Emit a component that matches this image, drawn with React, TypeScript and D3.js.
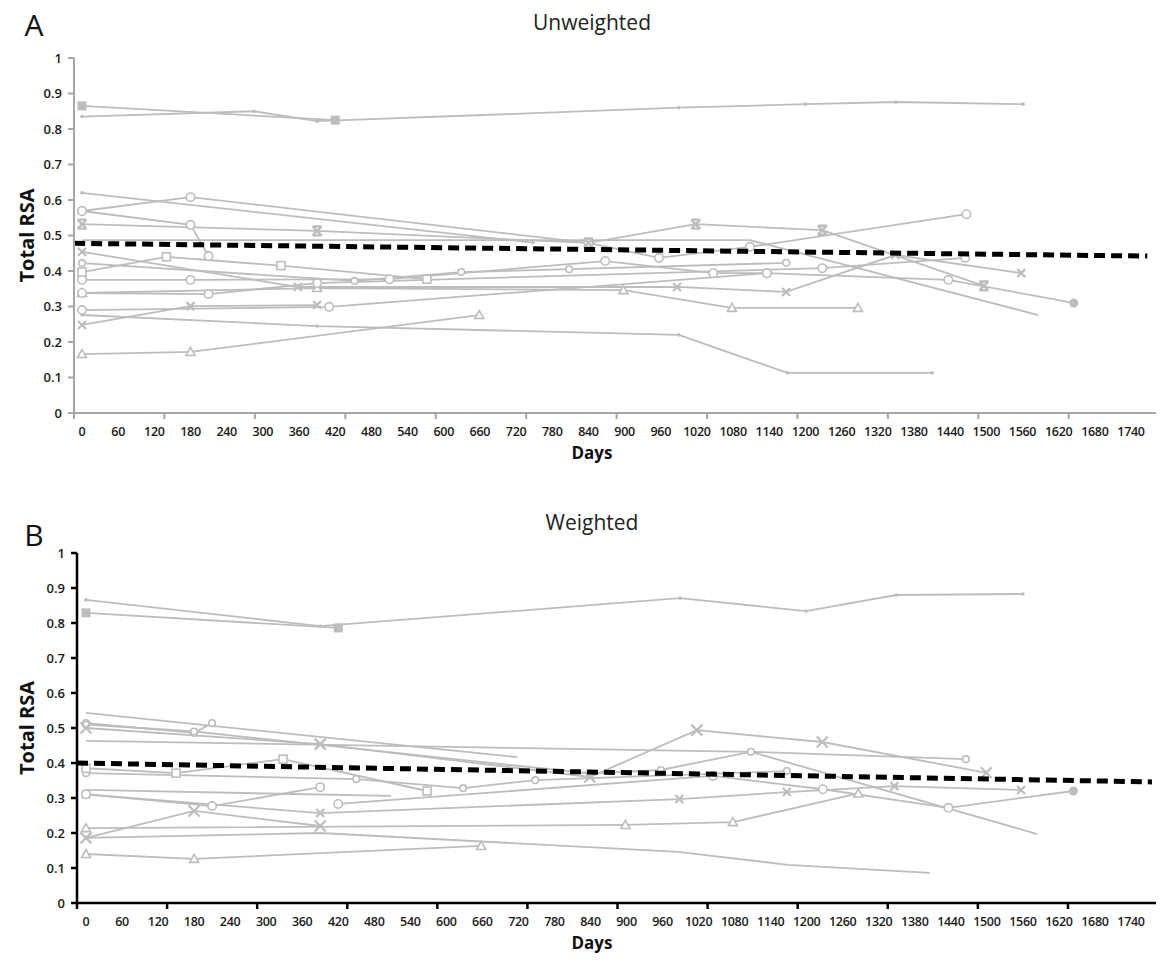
import React from 'react'
import * as d3 from 'd3'

type Pt = [number, number]

// x tick labels (days) and y tick labels
const dayLabels = d3.range(0, 1741, 60)
const rsaTicks = d3.range(0, 1.01, 0.1)

// ---- Panel A: unweighted ----
const aTopDot: Pt[] = [[0, 0.835], [285, 0.85], [390, 0.822], [990, 0.86], [1200, 0.87], [1350, 0.876], [1561, 0.87]]
const aTopSquare: Pt[] = [[0, 0.865], [420, 0.825]]
const aHigh: Pt[] = [[0, 0.62], [748, 0.48]]
const aCircleLong: Pt[] = [[0, 0.569], [180, 0.608], [840, 0.479], [957, 0.437], [1108, 0.468], [1467, 0.56]]
const aCircleShort: Pt[] = [[0, 0.569], [180, 0.53], [210, 0.442]]
const aStar: Pt[] = [[0, 0.532], [390, 0.513], [840, 0.479], [1018, 0.532], [1228, 0.515], [1496, 0.358]]
const aCircle49: Pt[] = [[0, 0.487], [1108, 0.487], [1586, 0.276]]
const aCross45: Pt[] = [[0, 0.454], [358, 0.355], [987, 0.355], [1168, 0.341], [1349, 0.445], [1558, 0.394]]
const aDiamond: Pt[] = [[0, 0.422], [452, 0.372], [629, 0.397], [808, 0.405], [1168, 0.423]]
const aSquareOpen: Pt[] = [[0, 0.397], [140, 0.44], [330, 0.415], [572, 0.377]]
const aFilledEnd: Pt[] = [[0, 0.375], [180, 0.375], [510, 0.377], [868, 0.428], [1047, 0.394], [1136, 0.394], [1437, 0.375], [1645, 0.31]]
const aTriangle: Pt[] = [[0, 0.338], [390, 0.352], [898, 0.346], [1078, 0.296], [1287, 0.296]]
const aCircle34: Pt[] = [[0, 0.338], [210, 0.335], [390, 0.366], [1228, 0.408], [1465, 0.437]]
const aCircle29: Pt[] = [[0, 0.29], [410, 0.299], [1136, 0.394]]
const aCrossLow: Pt[] = [[0, 0.248], [180, 0.301], [390, 0.304]]
const aDotLow: Pt[] = [[0, 0.276], [390, 0.245], [990, 0.22], [1170, 0.113], [1410, 0.113]]
const aTriLow: Pt[] = [[0, 0.166], [180, 0.172], [659, 0.276]]
const aTrend: Pt[] = [[-13, 0.478], [1767, 0.442]]

// ---- Panel B: weighted ----
const bTopDot: Pt[] = [[0, 0.866], [390, 0.791], [989, 0.871], [1199, 0.834], [1349, 0.88], [1560, 0.883]]
const bTopSquare: Pt[] = [[0, 0.829], [420, 0.786]]
const bHigh: Pt[] = [[0, 0.543], [718, 0.417]]
const bCircleShort: Pt[] = [[0, 0.514], [180, 0.486], [210, 0.514]]
const bCircleLong: Pt[] = [[0, 0.51], [180, 0.49], [840, 0.37], [957, 0.38], [1107, 0.432], [1465, 0.411]]
const bCross50: Pt[] = [[0, 0.5], [390, 0.454], [839, 0.36], [1017, 0.494], [1226, 0.46], [1499, 0.372]]
const bLine46: Pt[] = [[0, 0.463], [1107, 0.432], [1584, 0.197]]
const bDiamond: Pt[] = [[0, 0.371], [450, 0.354], [628, 0.328], [748, 0.351], [1167, 0.377]]
const bSquareOpen: Pt[] = [[0, 0.385], [150, 0.371], [328, 0.411], [568, 0.32]]
const bLine32: Pt[] = [[0, 0.323], [508, 0.306]]
const bFilledEnd: Pt[] = [[420, 0.283], [1044, 0.363], [1227, 0.325], [1436, 0.272], [1644, 0.32]]
const bStar: Pt[] = [[0, 0.31], [390, 0.257], [988, 0.297], [1167, 0.317], [1346, 0.334], [1557, 0.323]]
const bCircle31: Pt[] = [[0, 0.311], [210, 0.277], [390, 0.331]]
const bTriangle: Pt[] = [[0, 0.214], [898, 0.223], [1077, 0.231], [1286, 0.313]]
const bCrossLow: Pt[] = [[0, 0.186], [180, 0.263], [390, 0.22]]
const bDotLow: Pt[] = [[0, 0.186], [390, 0.2], [986, 0.146], [1169, 0.109], [1405, 0.086]]
const bTriLow: Pt[] = [[0, 0.14], [180, 0.126], [658, 0.163]]
const bTrend: Pt[] = [[-15, 0.4], [1775, 0.346]]

type Series = { data: Pt[]; marker: string; endMarker?: string }

const seriesA: Series[] = [
  { data: aTopDot, marker: 'dot' },
  { data: aTopSquare, marker: 'fsquare' },
  { data: aHigh, marker: 'dot' },
  { data: aCircleLong, marker: 'circle' },
  { data: aCircleShort, marker: 'circle' },
  { data: aStar, marker: 'star' },
  { data: aCircle49, marker: 'none' },
  { data: aCross45, marker: 'cross' },
  { data: aDiamond, marker: 'smallcircle' },
  { data: aSquareOpen, marker: 'square' },
  { data: aFilledEnd, marker: 'circle', endMarker: 'fcircle' },
  { data: aTriangle, marker: 'tri' },
  { data: aCircle34, marker: 'circle' },
  { data: aCircle29, marker: 'circle' },
  { data: aCrossLow, marker: 'cross' },
  { data: aDotLow, marker: 'dot' },
  { data: aTriLow, marker: 'tri' },
]

const seriesB: Series[] = [
  { data: bTopDot, marker: 'dot' },
  { data: bTopSquare, marker: 'fsquare' },
  { data: bHigh, marker: 'none' },
  { data: bCircleShort, marker: 'smallcircle' },
  { data: bCircleLong, marker: 'smallcircle' },
  { data: bCross50, marker: 'bigcross' },
  { data: bLine46, marker: 'none' },
  { data: bDiamond, marker: 'smallcircle' },
  { data: bSquareOpen, marker: 'square' },
  { data: bLine32, marker: 'none' },
  { data: bFilledEnd, marker: 'circle', endMarker: 'fcircle' },
  { data: bStar, marker: 'cross' },
  { data: bCircle31, marker: 'circle' },
  { data: bTriangle, marker: 'tri' },
  { data: bCrossLow, marker: 'bigcross' },
  { data: bDotLow, marker: 'none' },
  { data: bTriLow, marker: 'tri' },
]

const GREY = '#bdbdbd'
const FONT = "'Open Sans', 'DejaVu Sans', sans-serif"

function Marker({ type, x, y }: { type: string; x: number; y: number }) {
  const s = { stroke: GREY, strokeWidth: 1.6 }
  switch (type) {
    case 'dot':
      return <circle cx={x} cy={y} r={1.8} fill={GREY} />
    case 'circle':
      return <circle cx={x} cy={y} r={4.2} fill="white" {...s} />
    case 'smallcircle':
      return <circle cx={x} cy={y} r={3.3} fill="white" {...s} />
    case 'fcircle':
      return <circle cx={x} cy={y} r={4.5} fill={GREY} />
    case 'square':
      return <rect x={x - 4} y={y - 4} width={8} height={8} fill="white" {...s} />
    case 'fsquare':
      return <rect x={x - 4.5} y={y - 4.5} width={9} height={9} fill={GREY} />
    case 'tri':
      return <path d={`M${x},${y - 4.5}L${x + 4.5},${y + 3.5}L${x - 4.5},${y + 3.5}Z`} fill="white" {...s} />
    case 'cross':
      return <path d={`M${x - 4},${y - 4}L${x + 4},${y + 4}M${x - 4},${y + 4}L${x + 4},${y - 4}`} fill="none" stroke={GREY} strokeWidth={2.2} />
    case 'bigcross':
      return <path d={`M${x - 5.5},${y - 5.5}L${x + 5.5},${y + 5.5}M${x - 5.5},${y + 5.5}L${x + 5.5},${y - 5.5}`} fill="none" stroke={GREY} strokeWidth={2.2} />
    case 'star':
      return (
        <path
          d={`M${x - 4.5},${y - 4.5}L${x + 4.5},${y + 4.5}M${x - 4.5},${y + 4.5}L${x + 4.5},${y - 4.5}M${x - 4.5},${y - 4.5}H${x + 4.5}M${x - 4.5},${y + 4.5}H${x + 4.5}`}
          fill="none"
          stroke={GREY}
          strokeWidth={2.4}
        />
      )
    default:
      return null
  }
}

type PanelProps = {
  letter: string
  title: string
  series: Series[]
  trend: Pt[]
  top: number
  bottom: number
  axisLeft: number
  axisRight: number
  zeroX: number
  lastX: number
  axisColor: string
  axisWidth: number
  letterY: number
  titleY: number
}

function Panel(p: PanelProps) {
  const x = d3.scaleLinear().domain([0, 1740]).range([p.zeroX, p.lastX])
  const y = d3.scaleLinear().domain([0, 1]).range([p.bottom, p.top])
  const line = d3
    .line<Pt>()
    .x((d) => x(d[0]))
    .y((d) => y(d[1]))
  const tickDays = d3.range(x.invert(p.axisLeft), x.invert(p.axisRight) + 1, 150)
  const midY = (p.top + p.bottom) / 2
  const centerX = 592

  return (
    <g>
      <text x={34} y={p.letterY} fontSize={30} fontFamily={FONT} textAnchor="middle" fill="#111">
        {p.letter}
      </text>
      <text x={centerX} y={p.titleY} fontSize={21} fontFamily={FONT} textAnchor="middle" fill="#222">
        {p.title}
      </text>

      {p.series.map((s, i) => (
        <path key={i} d={line(s.data) || ''} fill="none" stroke={GREY} strokeWidth={1.8} />
      ))}
      {p.series.map((s, i) =>
        s.data.map((d, j) => (
          <Marker
            key={`${i}-${j}`}
            type={s.endMarker && j === s.data.length - 1 ? s.endMarker : s.marker}
            x={x(d[0])}
            y={y(d[1])}
          />
        ))
      )}

      <path d={line(p.trend) || ''} fill="none" stroke="#000" strokeWidth={5} strokeDasharray="11,6" />

      {/* axes */}
      <line x1={p.axisLeft} x2={p.axisLeft} y1={p.top} y2={p.bottom} stroke={p.axisColor} strokeWidth={p.axisWidth} />
      <line x1={p.axisLeft} x2={p.axisRight} y1={p.bottom} y2={p.bottom} stroke={p.axisColor} strokeWidth={p.axisWidth} />
      {rsaTicks.map((t) => (
        <g key={t}>
          <line x1={p.axisLeft - 6} x2={p.axisLeft} y1={y(t)} y2={y(t)} stroke={p.axisColor} strokeWidth={p.axisWidth} />
          <text
            x={p.axisLeft - 12}
            y={y(t)}
            dy="0.35em"
            textAnchor="end"
            fontSize={13}
            fontWeight={600}
            fontFamily={FONT}
            fill="#1a1a1a"
          >
            {d3.format('.1~f')(t)}
          </text>
        </g>
      ))}
      {tickDays.map((d) => (
        <line key={d} x1={x(d)} x2={x(d)} y1={p.bottom} y2={p.bottom + 6} stroke={p.axisColor} strokeWidth={p.axisWidth} />
      ))}
      {dayLabels.map((d) => (
        <text
          key={d}
          x={x(d)}
          y={p.bottom + 19}
          dy="0.35em"
          textAnchor="middle"
          fontSize={12.5}
          fontWeight={600}
          fontFamily={FONT}
          fill="#1a1a1a"
          letterSpacing={-0.3}
        >
          {d}
        </text>
      ))}
      <text x={centerX} y={p.bottom + 46} textAnchor="middle" fontSize={17} fontWeight={700} fontFamily={FONT} fill="#111">
        Days
      </text>
      <text
        transform={`translate(${27},${midY}) rotate(-90)`}
        textAnchor="middle"
        dy="0.35em"
        fontSize={20}
        fontWeight={700}
        fontFamily={FONT}
        fill="#111"
      >
        Total RSA
      </text>
    </g>
  )
}

export default function App() {
  return (
    <svg width={1161} height={965} style={{ position: 'absolute', left: 0, top: 0, background: 'white' }}>
      <Panel
        letter="A"
        title="Unweighted"
        series={seriesA}
        trend={aTrend}
        top={58}
        bottom={413}
        axisLeft={74}
        axisRight={1156}
        zeroX={82}
        lastX={1131}
        axisColor="#a6a6a6"
        axisWidth={2}
        letterY={36}
        titleY={30}
      />
      <Panel
        letter="B"
        title="Weighted"
        series={seriesB}
        trend={bTrend}
        top={553}
        bottom={903}
        axisLeft={77}
        axisRight={1156}
        zeroX={86}
        lastX={1131}
        axisColor="#000"
        axisWidth={2.5}
        letterY={546}
        titleY={530}
      />
    </svg>
  )
}
